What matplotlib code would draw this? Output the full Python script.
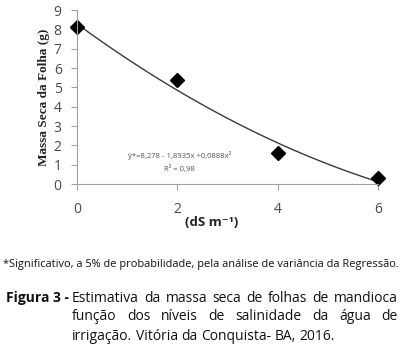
import numpy as np
import matplotlib
matplotlib.use("Agg")
import matplotlib.pyplot as plt

# data
salinity = [0, 2, 4, 6]
leaf_mass = [8.1, 5.4, 1.6, 0.3]
# regression coefficients printed on the chart
b0, b1, b2 = 8.278, -1.8935, 0.0888

x_ticks = [0, 2, 4, 6]
y_ticks = list(range(0, 10))

footnote = "*Significativo, a 5% de probabilidade, pela análise de variância da Regressão."
caption_head = "Figura 3 -"
caption_lines = [
    "Estimativa da massa seca de folhas de mandioca",
    "função dos níveis de salinidade da água de",
    "irrigação. Vitória da Conquista- BA, 2016.",
]

W, H = 405, 351
fig = plt.figure(figsize=(W / 100, H / 100), dpi=100)
ax = fig.add_axes([77 / W, 1 - 184 / H, (378 - 77) / W, (184 - 10) / H])

# fitted curve
xf = np.linspace(0, 6, 200)
yf = b0 + b1 * xf + b2 * xf ** 2
ax.plot(xf, yf, color="#3a3a3a", lw=1.0)
ax.plot(salinity, leaf_mass, "D", color="black", markersize=7, clip_on=False)

ax.set_xlim(0, 6)
ax.set_ylim(0, 9)
ax.set_xticks(x_ticks)
ax.set_yticks(y_ticks)
for s in ["top", "right"]:
    ax.spines[s].set_visible(False)
for s in ["left", "bottom"]:
    ax.spines[s].set_color("#a0a0a0")
    ax.spines[s].set_linewidth(0.8)
ax.tick_params(axis="both", colors="#a0a0a0", length=4, width=0.8,
               labelcolor="#4a4a4a", labelsize=10)
ax.tick_params(axis="x", pad=9)
ax.tick_params(axis="y", pad=7)
for lab in ax.get_xticklabels() + ax.get_yticklabels():
    lab.set_family("Open Sans")

ax.set_ylabel("Massa Seca da Folha (g)", family="Liberation Serif",
              fontweight="bold", fontsize=9.5, color="#222222", labelpad=3)
fig.text(212 / W, 1 - 222 / H, "(dS m⁻¹)", ha="center", va="center",
         fontsize=9.5, fontweight="bold", family=["Open Sans", "DejaVu Sans"],
         color="#222222")

ax.text(2.04, 1.5, "ŷ*=8,278 - 1,8935x +0,0888x²", ha="center", va="center",
        fontsize=5.5, color="#555555", family="Open Sans")
ax.text(2.04, 0.78, "R² = 0,98", ha="center", va="center",
        fontsize=5.5, color="#555555", family="Open Sans")

fig.text(3 / W, 1 - 264 / H, footnote, ha="left", va="center",
         fontsize=7.9, family="Open Sans", color="#111111")

# caption, justified between x0 and x1
renderer = fig.canvas.get_renderer()
fig.text(6 / W, 1 - 298 / H, caption_head, ha="left", va="center",
         fontsize=10, fontweight="bold", family="Open Sans", color="#111111")
x0, x1 = 72, 398
line_y = [298, 317, 336]
for i, (line, yy) in enumerate(zip(caption_lines, line_y)):
    words = line.split(" ")
    texts = [fig.text(0, 1 - yy / H, w, ha="left", va="center", fontsize=10,
                      family="Open Sans", color="#111111") for w in words]
    widths = [t.get_window_extent(renderer).width for t in texts]
    if i < len(caption_lines) - 1:
        gap = (x1 - x0 - sum(widths)) / (len(words) - 1)
    else:
        sp = fig.text(0, 0, "a a", fontsize=10, family="Open Sans")
        sp_w = sp.get_window_extent(renderer).width
        a = fig.text(0, 0, "aa", fontsize=10, family="Open Sans")
        gap = sp_w - a.get_window_extent(renderer).width
        sp.remove()
        a.remove()
    x = x0
    for t, w in zip(texts, widths):
        t.set_x(x / W)
        x += w + gap

fig.savefig("out.png", dpi=100)
